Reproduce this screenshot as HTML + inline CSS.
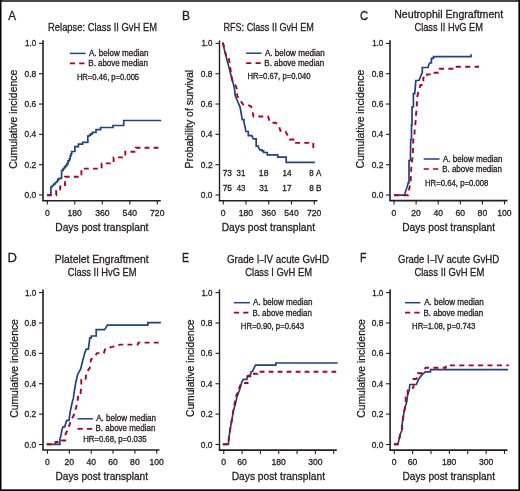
<!DOCTYPE html>
<html><head><meta charset="utf-8"><style>
html,body{margin:0;padding:0;background:#fff;width:520px;height:491px;overflow:hidden}
svg{display:block;will-change:transform}
text{font-family:"Liberation Sans",sans-serif;font-kerning:none;font-variant-ligatures:none;stroke:#231f20;stroke-width:0.3px}
</style></head><body>
<svg width="520" height="491" viewBox="0 0 520 491">
<rect x="0" y="0" width="520" height="2" fill="#474747"/>
<rect x="0" y="0" width="1.5" height="491" fill="#000"/>
<rect x="518.4" y="0" width="1.6" height="491" fill="#000"/>
<rect x="0" y="489.3" width="520" height="1.7" fill="#111"/>
<text x="8.13" y="19.55" font-size="13" textLength="7.80" lengthAdjust="spacingAndGlyphs" fill="#231f20">A</text>
<text x="182.01" y="19.60" font-size="13" textLength="8.02" lengthAdjust="spacingAndGlyphs" fill="#231f20">B</text>
<text x="360.02" y="19.90" font-size="13" textLength="8.21" lengthAdjust="spacingAndGlyphs" fill="#231f20">C</text>
<text x="7.58" y="262.30" font-size="13" textLength="9.45" lengthAdjust="spacingAndGlyphs" fill="#231f20">D</text>
<text x="181.94" y="262.00" font-size="13" textLength="7.01" lengthAdjust="spacingAndGlyphs" fill="#231f20">E</text>
<text x="360.03" y="262.00" font-size="13" textLength="6.50" lengthAdjust="spacingAndGlyphs" fill="#231f20">F</text>
<text x="48.08" y="31.20" font-size="11" textLength="108.94" lengthAdjust="spacingAndGlyphs" fill="#231f20">Relapse: Class II GvH EM</text>
<text x="223.45" y="31.10" font-size="11" textLength="90.39" lengthAdjust="spacingAndGlyphs" fill="#231f20">RFS: Class II GvH EM</text>
<text x="394.23" y="18.20" font-size="11" textLength="108.95" lengthAdjust="spacingAndGlyphs" fill="#231f20">Neutrophil Engraftment</text>
<text x="414.43" y="30.80" font-size="11" textLength="68.63" lengthAdjust="spacingAndGlyphs" fill="#231f20">Class II HvG EM</text>
<text x="54.85" y="263.00" font-size="11" textLength="93.72" lengthAdjust="spacingAndGlyphs" fill="#231f20">Platelet Engraftment</text>
<text x="67.73" y="276.20" font-size="11" textLength="68.84" lengthAdjust="spacingAndGlyphs" fill="#231f20">Class II HvG EM</text>
<text x="226.91" y="263.00" font-size="11" textLength="32.49" lengthAdjust="spacingAndGlyphs" fill="#231f20">Grade I</text>
<text x="259.60" y="263.00" font-size="11" textLength="4.05" lengthAdjust="spacingAndGlyphs" fill="#231f20">–</text>
<text x="263.90" y="263.00" font-size="11" textLength="65.07" lengthAdjust="spacingAndGlyphs" fill="#231f20">IV acute GvHD</text>
<text x="245.32" y="276.20" font-size="11" textLength="66.64" lengthAdjust="spacingAndGlyphs" fill="#231f20">Class I GvH EM</text>
<text x="398.02" y="263.00" font-size="11" textLength="31.65" lengthAdjust="spacingAndGlyphs" fill="#231f20">Grade I</text>
<text x="430.20" y="263.00" font-size="11" textLength="4.00" lengthAdjust="spacingAndGlyphs" fill="#231f20">–</text>
<text x="434.50" y="263.00" font-size="11" textLength="64.86" lengthAdjust="spacingAndGlyphs" fill="#231f20">IV acute GvHD</text>
<text x="414.42" y="276.20" font-size="11" textLength="69.86" lengthAdjust="spacingAndGlyphs" fill="#231f20">Class II GvH EM</text>
<text transform="translate(17.30,168.30) rotate(-90)" x="-0.53" y="0" font-size="11" textLength="99.09" lengthAdjust="spacingAndGlyphs" fill="#231f20">Cumulative incidence</text>
<text transform="translate(193.00,167.70) rotate(-90)" x="-0.86" y="0" font-size="11" textLength="98.66" lengthAdjust="spacingAndGlyphs" fill="#231f20">Probability of survival</text>
<text transform="translate(364.40,168.00) rotate(-90)" x="-0.53" y="0" font-size="11" textLength="98.69" lengthAdjust="spacingAndGlyphs" fill="#231f20">Cumulative incidence</text>
<text transform="translate(17.60,417.30) rotate(-90)" x="-0.53" y="0" font-size="11" textLength="98.69" lengthAdjust="spacingAndGlyphs" fill="#231f20">Cumulative incidence</text>
<text transform="translate(193.50,416.50) rotate(-90)" x="-0.52" y="0" font-size="11" textLength="97.58" lengthAdjust="spacingAndGlyphs" fill="#231f20">Cumulative incidence</text>
<text transform="translate(364.60,417.30) rotate(-90)" x="-0.53" y="0" font-size="11" textLength="98.69" lengthAdjust="spacingAndGlyphs" fill="#231f20">Cumulative incidence</text>
<text x="55.26" y="231.40" font-size="11" textLength="93.21" lengthAdjust="spacingAndGlyphs" fill="#231f20">Days post transplant</text>
<text x="221.66" y="230.90" font-size="11" textLength="93.42" lengthAdjust="spacingAndGlyphs" fill="#231f20">Days post transplant</text>
<text x="402.16" y="230.90" font-size="11" textLength="92.91" lengthAdjust="spacingAndGlyphs" fill="#231f20">Days post transplant</text>
<text x="55.42" y="480.40" font-size="11" textLength="92.66" lengthAdjust="spacingAndGlyphs" fill="#231f20">Days post transplant</text>
<text x="231.66" y="480.40" font-size="11" textLength="93.42" lengthAdjust="spacingAndGlyphs" fill="#231f20">Days post transplant</text>
<text x="402.42" y="480.40" font-size="11" textLength="92.66" lengthAdjust="spacingAndGlyphs" fill="#231f20">Days post transplant</text>
<path d="M43.0,40.2 V200.8" stroke="#231f20" stroke-width="1.6" fill="none"/>
<path d="M42.2,200.8 H160.8" stroke="#231f20" stroke-width="1.6" fill="none"/>
<path d="M39.0,195.00 H43.0" stroke="#231f20" stroke-width="1.1" fill="none"/>
<text x="24.57" y="198.00" font-size="8.6" textLength="11.66" lengthAdjust="spacingAndGlyphs" fill="#231f20">0.0</text>
<path d="M39.0,164.68 H43.0" stroke="#231f20" stroke-width="1.1" fill="none"/>
<text x="24.57" y="167.68" font-size="8.6" textLength="11.76" lengthAdjust="spacingAndGlyphs" fill="#231f20">0.2</text>
<path d="M39.0,134.36 H43.0" stroke="#231f20" stroke-width="1.1" fill="none"/>
<text x="24.57" y="137.36" font-size="8.6" textLength="11.57" lengthAdjust="spacingAndGlyphs" fill="#231f20">0.4</text>
<path d="M39.0,104.04 H43.0" stroke="#231f20" stroke-width="1.1" fill="none"/>
<text x="24.57" y="107.04" font-size="8.6" textLength="11.70" lengthAdjust="spacingAndGlyphs" fill="#231f20">0.6</text>
<path d="M39.0,73.72 H43.0" stroke="#231f20" stroke-width="1.1" fill="none"/>
<text x="24.57" y="76.72" font-size="8.6" textLength="11.69" lengthAdjust="spacingAndGlyphs" fill="#231f20">0.8</text>
<path d="M39.0,43.40 H43.0" stroke="#231f20" stroke-width="1.1" fill="none"/>
<text x="25.09" y="46.40" font-size="8.6" textLength="11.12" lengthAdjust="spacingAndGlyphs" fill="#231f20">1.0</text>
<path d="M47.30,200.8 V204.60000000000002" stroke="#231f20" stroke-width="1.1" fill="none"/>
<text x="44.91" y="215.80" font-size="8.6" textLength="4.78" lengthAdjust="spacingAndGlyphs" fill="#231f20">0</text>
<path d="M74.80,200.8 V204.60000000000002" stroke="#231f20" stroke-width="1.1" fill="none"/>
<text x="67.47" y="215.80" font-size="8.6" textLength="14.35" lengthAdjust="spacingAndGlyphs" fill="#231f20">180</text>
<path d="M102.30,200.8 V204.60000000000002" stroke="#231f20" stroke-width="1.1" fill="none"/>
<text x="95.13" y="215.80" font-size="8.6" textLength="14.35" lengthAdjust="spacingAndGlyphs" fill="#231f20">360</text>
<path d="M129.80,200.8 V204.60000000000002" stroke="#231f20" stroke-width="1.1" fill="none"/>
<text x="122.62" y="215.80" font-size="8.6" textLength="14.35" lengthAdjust="spacingAndGlyphs" fill="#231f20">540</text>
<path d="M157.30,200.8 V204.60000000000002" stroke="#231f20" stroke-width="1.1" fill="none"/>
<text x="150.07" y="215.80" font-size="8.6" textLength="14.35" lengthAdjust="spacingAndGlyphs" fill="#231f20">720</text>
<path d="M219.5,40.4 V200.8" stroke="#231f20" stroke-width="1.4" fill="none"/>
<path d="M218.7,200.8 H317.5" stroke="#231f20" stroke-width="1.6" fill="none"/>
<path d="M215.5,195.00 H219.5" stroke="#231f20" stroke-width="1.1" fill="none"/>
<text x="200.87" y="198.00" font-size="8.6" textLength="11.66" lengthAdjust="spacingAndGlyphs" fill="#231f20">0.0</text>
<path d="M215.5,164.68 H219.5" stroke="#231f20" stroke-width="1.1" fill="none"/>
<text x="200.87" y="167.68" font-size="8.6" textLength="11.76" lengthAdjust="spacingAndGlyphs" fill="#231f20">0.2</text>
<path d="M215.5,134.36 H219.5" stroke="#231f20" stroke-width="1.1" fill="none"/>
<text x="200.87" y="137.36" font-size="8.6" textLength="11.57" lengthAdjust="spacingAndGlyphs" fill="#231f20">0.4</text>
<path d="M215.5,104.04 H219.5" stroke="#231f20" stroke-width="1.1" fill="none"/>
<text x="200.87" y="107.04" font-size="8.6" textLength="11.70" lengthAdjust="spacingAndGlyphs" fill="#231f20">0.6</text>
<path d="M215.5,73.72 H219.5" stroke="#231f20" stroke-width="1.1" fill="none"/>
<text x="200.87" y="76.72" font-size="8.6" textLength="11.69" lengthAdjust="spacingAndGlyphs" fill="#231f20">0.8</text>
<path d="M215.5,43.40 H219.5" stroke="#231f20" stroke-width="1.1" fill="none"/>
<text x="201.39" y="46.40" font-size="8.6" textLength="11.12" lengthAdjust="spacingAndGlyphs" fill="#231f20">1.0</text>
<path d="M223.25,200.8 V204.60000000000002" stroke="#231f20" stroke-width="1.1" fill="none"/>
<text x="220.86" y="215.80" font-size="8.6" textLength="4.78" lengthAdjust="spacingAndGlyphs" fill="#231f20">0</text>
<path d="M246.00,200.8 V204.60000000000002" stroke="#231f20" stroke-width="1.1" fill="none"/>
<text x="238.67" y="215.80" font-size="8.6" textLength="14.35" lengthAdjust="spacingAndGlyphs" fill="#231f20">180</text>
<path d="M268.75,200.8 V204.60000000000002" stroke="#231f20" stroke-width="1.1" fill="none"/>
<text x="261.58" y="215.80" font-size="8.6" textLength="14.35" lengthAdjust="spacingAndGlyphs" fill="#231f20">360</text>
<path d="M291.50,200.8 V204.60000000000002" stroke="#231f20" stroke-width="1.1" fill="none"/>
<text x="284.32" y="215.80" font-size="8.6" textLength="14.35" lengthAdjust="spacingAndGlyphs" fill="#231f20">540</text>
<path d="M314.25,200.8 V204.60000000000002" stroke="#231f20" stroke-width="1.1" fill="none"/>
<text x="307.02" y="215.80" font-size="8.6" textLength="14.35" lengthAdjust="spacingAndGlyphs" fill="#231f20">720</text>
<path d="M390.0,40.2 V200.6" stroke="#231f20" stroke-width="1.6" fill="none"/>
<path d="M389.2,200.6 H507.5" stroke="#231f20" stroke-width="1.6" fill="none"/>
<path d="M386.0,195.00 H390.0" stroke="#231f20" stroke-width="1.1" fill="none"/>
<text x="371.67" y="198.00" font-size="8.6" textLength="11.66" lengthAdjust="spacingAndGlyphs" fill="#231f20">0.0</text>
<path d="M386.0,164.68 H390.0" stroke="#231f20" stroke-width="1.1" fill="none"/>
<text x="371.67" y="167.68" font-size="8.6" textLength="11.76" lengthAdjust="spacingAndGlyphs" fill="#231f20">0.2</text>
<path d="M386.0,134.36 H390.0" stroke="#231f20" stroke-width="1.1" fill="none"/>
<text x="371.67" y="137.36" font-size="8.6" textLength="11.57" lengthAdjust="spacingAndGlyphs" fill="#231f20">0.4</text>
<path d="M386.0,104.04 H390.0" stroke="#231f20" stroke-width="1.1" fill="none"/>
<text x="371.67" y="107.04" font-size="8.6" textLength="11.70" lengthAdjust="spacingAndGlyphs" fill="#231f20">0.6</text>
<path d="M386.0,73.72 H390.0" stroke="#231f20" stroke-width="1.1" fill="none"/>
<text x="371.67" y="76.72" font-size="8.6" textLength="11.69" lengthAdjust="spacingAndGlyphs" fill="#231f20">0.8</text>
<path d="M386.0,43.40 H390.0" stroke="#231f20" stroke-width="1.1" fill="none"/>
<text x="372.19" y="46.40" font-size="8.6" textLength="11.12" lengthAdjust="spacingAndGlyphs" fill="#231f20">1.0</text>
<path d="M394.00,200.6 V204.4" stroke="#231f20" stroke-width="1.1" fill="none"/>
<text x="391.61" y="215.80" font-size="8.6" textLength="4.78" lengthAdjust="spacingAndGlyphs" fill="#231f20">0</text>
<path d="M416.10,200.6 V204.4" stroke="#231f20" stroke-width="1.1" fill="none"/>
<text x="411.27" y="215.80" font-size="8.6" textLength="9.57" lengthAdjust="spacingAndGlyphs" fill="#231f20">20</text>
<path d="M438.20,200.6 V204.4" stroke="#231f20" stroke-width="1.1" fill="none"/>
<text x="433.49" y="215.80" font-size="8.6" textLength="9.57" lengthAdjust="spacingAndGlyphs" fill="#231f20">40</text>
<path d="M460.30,200.6 V204.4" stroke="#231f20" stroke-width="1.1" fill="none"/>
<text x="455.47" y="215.80" font-size="8.6" textLength="9.57" lengthAdjust="spacingAndGlyphs" fill="#231f20">60</text>
<path d="M482.40,200.6 V204.4" stroke="#231f20" stroke-width="1.1" fill="none"/>
<text x="477.60" y="215.80" font-size="8.6" textLength="9.57" lengthAdjust="spacingAndGlyphs" fill="#231f20">80</text>
<path d="M504.50,200.6 V204.4" stroke="#231f20" stroke-width="1.1" fill="none"/>
<text x="497.17" y="215.80" font-size="8.6" textLength="14.35" lengthAdjust="spacingAndGlyphs" fill="#231f20">100</text>
<path d="M43.0,289.4 V450.0" stroke="#231f20" stroke-width="1.6" fill="none"/>
<path d="M42.2,450.0 H159.5" stroke="#231f20" stroke-width="1.6" fill="none"/>
<path d="M39.0,444.50 H43.0" stroke="#231f20" stroke-width="1.1" fill="none"/>
<text x="24.57" y="447.50" font-size="8.6" textLength="11.66" lengthAdjust="spacingAndGlyphs" fill="#231f20">0.0</text>
<path d="M39.0,414.12 H43.0" stroke="#231f20" stroke-width="1.1" fill="none"/>
<text x="24.57" y="417.12" font-size="8.6" textLength="11.76" lengthAdjust="spacingAndGlyphs" fill="#231f20">0.2</text>
<path d="M39.0,383.74 H43.0" stroke="#231f20" stroke-width="1.1" fill="none"/>
<text x="24.57" y="386.74" font-size="8.6" textLength="11.57" lengthAdjust="spacingAndGlyphs" fill="#231f20">0.4</text>
<path d="M39.0,353.36 H43.0" stroke="#231f20" stroke-width="1.1" fill="none"/>
<text x="24.57" y="356.36" font-size="8.6" textLength="11.70" lengthAdjust="spacingAndGlyphs" fill="#231f20">0.6</text>
<path d="M39.0,322.98 H43.0" stroke="#231f20" stroke-width="1.1" fill="none"/>
<text x="24.57" y="325.98" font-size="8.6" textLength="11.69" lengthAdjust="spacingAndGlyphs" fill="#231f20">0.8</text>
<path d="M39.0,292.60 H43.0" stroke="#231f20" stroke-width="1.1" fill="none"/>
<text x="25.09" y="295.60" font-size="8.6" textLength="11.12" lengthAdjust="spacingAndGlyphs" fill="#231f20">1.0</text>
<path d="M47.50,450.0 V453.8" stroke="#231f20" stroke-width="1.1" fill="none"/>
<text x="45.11" y="465.00" font-size="8.6" textLength="4.78" lengthAdjust="spacingAndGlyphs" fill="#231f20">0</text>
<path d="M69.35,450.0 V453.8" stroke="#231f20" stroke-width="1.1" fill="none"/>
<text x="64.52" y="465.00" font-size="8.6" textLength="9.57" lengthAdjust="spacingAndGlyphs" fill="#231f20">20</text>
<path d="M91.20,450.0 V453.8" stroke="#231f20" stroke-width="1.1" fill="none"/>
<text x="86.49" y="465.00" font-size="8.6" textLength="9.57" lengthAdjust="spacingAndGlyphs" fill="#231f20">40</text>
<path d="M113.05,450.0 V453.8" stroke="#231f20" stroke-width="1.1" fill="none"/>
<text x="108.22" y="465.00" font-size="8.6" textLength="9.57" lengthAdjust="spacingAndGlyphs" fill="#231f20">60</text>
<path d="M134.90,450.0 V453.8" stroke="#231f20" stroke-width="1.1" fill="none"/>
<text x="130.10" y="465.00" font-size="8.6" textLength="9.57" lengthAdjust="spacingAndGlyphs" fill="#231f20">80</text>
<path d="M156.75,450.0 V453.8" stroke="#231f20" stroke-width="1.1" fill="none"/>
<text x="149.42" y="465.00" font-size="8.6" textLength="14.35" lengthAdjust="spacingAndGlyphs" fill="#231f20">100</text>
<path d="M219.5,289.4 V450.1" stroke="#231f20" stroke-width="1.4" fill="none"/>
<path d="M218.7,450.1 H336.75" stroke="#231f20" stroke-width="1.6" fill="none"/>
<path d="M215.5,444.50 H219.5" stroke="#231f20" stroke-width="1.1" fill="none"/>
<text x="200.87" y="447.50" font-size="8.6" textLength="11.66" lengthAdjust="spacingAndGlyphs" fill="#231f20">0.0</text>
<path d="M215.5,414.12 H219.5" stroke="#231f20" stroke-width="1.1" fill="none"/>
<text x="200.87" y="417.12" font-size="8.6" textLength="11.76" lengthAdjust="spacingAndGlyphs" fill="#231f20">0.2</text>
<path d="M215.5,383.74 H219.5" stroke="#231f20" stroke-width="1.1" fill="none"/>
<text x="200.87" y="386.74" font-size="8.6" textLength="11.57" lengthAdjust="spacingAndGlyphs" fill="#231f20">0.4</text>
<path d="M215.5,353.36 H219.5" stroke="#231f20" stroke-width="1.1" fill="none"/>
<text x="200.87" y="356.36" font-size="8.6" textLength="11.70" lengthAdjust="spacingAndGlyphs" fill="#231f20">0.6</text>
<path d="M215.5,322.98 H219.5" stroke="#231f20" stroke-width="1.1" fill="none"/>
<text x="200.87" y="325.98" font-size="8.6" textLength="11.69" lengthAdjust="spacingAndGlyphs" fill="#231f20">0.8</text>
<path d="M215.5,292.60 H219.5" stroke="#231f20" stroke-width="1.1" fill="none"/>
<text x="201.39" y="295.60" font-size="8.6" textLength="11.12" lengthAdjust="spacingAndGlyphs" fill="#231f20">1.0</text>
<path d="M223.75,450.1 V453.90000000000003" stroke="#231f20" stroke-width="1.1" fill="none"/>
<text x="221.36" y="465.00" font-size="8.6" textLength="4.78" lengthAdjust="spacingAndGlyphs" fill="#231f20">0</text>
<path d="M242.08,450.1 V453.90000000000003" stroke="#231f20" stroke-width="1.1" fill="none"/>
<text x="237.25" y="465.00" font-size="8.6" textLength="9.57" lengthAdjust="spacingAndGlyphs" fill="#231f20">60</text>
<path d="M260.41,450.1 V453.90000000000003" stroke="#231f20" stroke-width="1.1" fill="none"/>
<path d="M278.74,450.1 V453.90000000000003" stroke="#231f20" stroke-width="1.1" fill="none"/>
<text x="271.41" y="465.00" font-size="8.6" textLength="14.35" lengthAdjust="spacingAndGlyphs" fill="#231f20">180</text>
<path d="M297.07,450.1 V453.90000000000003" stroke="#231f20" stroke-width="1.1" fill="none"/>
<path d="M315.40,450.1 V453.90000000000003" stroke="#231f20" stroke-width="1.1" fill="none"/>
<text x="308.23" y="465.00" font-size="8.6" textLength="14.35" lengthAdjust="spacingAndGlyphs" fill="#231f20">300</text>
<path d="M333.73,450.1 V453.90000000000003" stroke="#231f20" stroke-width="1.1" fill="none"/>
<path d="M390.1,289.4 V450.1" stroke="#231f20" stroke-width="1.6" fill="none"/>
<path d="M389.3,450.1 H507.5" stroke="#231f20" stroke-width="1.6" fill="none"/>
<path d="M386.1,444.50 H390.1" stroke="#231f20" stroke-width="1.1" fill="none"/>
<text x="371.67" y="447.50" font-size="8.6" textLength="11.66" lengthAdjust="spacingAndGlyphs" fill="#231f20">0.0</text>
<path d="M386.1,414.12 H390.1" stroke="#231f20" stroke-width="1.1" fill="none"/>
<text x="371.67" y="417.12" font-size="8.6" textLength="11.76" lengthAdjust="spacingAndGlyphs" fill="#231f20">0.2</text>
<path d="M386.1,383.74 H390.1" stroke="#231f20" stroke-width="1.1" fill="none"/>
<text x="371.67" y="386.74" font-size="8.6" textLength="11.57" lengthAdjust="spacingAndGlyphs" fill="#231f20">0.4</text>
<path d="M386.1,353.36 H390.1" stroke="#231f20" stroke-width="1.1" fill="none"/>
<text x="371.67" y="356.36" font-size="8.6" textLength="11.70" lengthAdjust="spacingAndGlyphs" fill="#231f20">0.6</text>
<path d="M386.1,322.98 H390.1" stroke="#231f20" stroke-width="1.1" fill="none"/>
<text x="371.67" y="325.98" font-size="8.6" textLength="11.69" lengthAdjust="spacingAndGlyphs" fill="#231f20">0.8</text>
<path d="M386.1,292.60 H390.1" stroke="#231f20" stroke-width="1.1" fill="none"/>
<text x="372.19" y="295.60" font-size="8.6" textLength="11.12" lengthAdjust="spacingAndGlyphs" fill="#231f20">1.0</text>
<path d="M394.25,450.1 V453.90000000000003" stroke="#231f20" stroke-width="1.1" fill="none"/>
<text x="391.86" y="465.00" font-size="8.6" textLength="4.78" lengthAdjust="spacingAndGlyphs" fill="#231f20">0</text>
<path d="M412.62,450.1 V453.90000000000003" stroke="#231f20" stroke-width="1.1" fill="none"/>
<text x="407.79" y="465.00" font-size="8.6" textLength="9.57" lengthAdjust="spacingAndGlyphs" fill="#231f20">60</text>
<path d="M431.00,450.1 V453.90000000000003" stroke="#231f20" stroke-width="1.1" fill="none"/>
<path d="M449.38,450.1 V453.90000000000003" stroke="#231f20" stroke-width="1.1" fill="none"/>
<text x="442.04" y="465.00" font-size="8.6" textLength="14.35" lengthAdjust="spacingAndGlyphs" fill="#231f20">180</text>
<path d="M467.75,450.1 V453.90000000000003" stroke="#231f20" stroke-width="1.1" fill="none"/>
<path d="M486.12,450.1 V453.90000000000003" stroke="#231f20" stroke-width="1.1" fill="none"/>
<text x="478.95" y="465.00" font-size="8.6" textLength="14.35" lengthAdjust="spacingAndGlyphs" fill="#231f20">300</text>
<path d="M504.50,450.1 V453.90000000000003" stroke="#231f20" stroke-width="1.1" fill="none"/>
<path d="M69.8,53.4 H85.5" stroke="#21437f" stroke-width="1.5" fill="none"/>
<text x="88.98" y="55.80" font-size="8.3" textLength="59.54" lengthAdjust="spacingAndGlyphs" fill="#231f20">A. below median</text>
<path d="M69.8,63.4 H85.5" stroke="#ad0029" stroke-width="1.7" fill="none" stroke-dasharray="5.2 4.2"/>
<text x="88.35" y="65.90" font-size="8.3" textLength="59.57" lengthAdjust="spacingAndGlyphs" fill="#231f20">B. above median</text>
<text x="76.88" y="79.60" font-size="8.2" textLength="62.24" lengthAdjust="spacingAndGlyphs" fill="#231f20">HR=0.46, p=0.005</text>
<path d="M246.15,53.2 H261.5" stroke="#21437f" stroke-width="1.5" fill="none"/>
<text x="264.98" y="55.80" font-size="8.3" textLength="59.74" lengthAdjust="spacingAndGlyphs" fill="#231f20">A. below median</text>
<path d="M246.15,63.2 H261.5" stroke="#ad0029" stroke-width="1.7" fill="none" stroke-dasharray="5.2 4.2"/>
<text x="264.35" y="65.90" font-size="8.3" textLength="59.77" lengthAdjust="spacingAndGlyphs" fill="#231f20">B. above median</text>
<text x="247.47" y="79.20" font-size="8.2" textLength="63.03" lengthAdjust="spacingAndGlyphs" fill="#231f20">HR=0.67, p=0.040</text>
<path d="M423.65,159.0 H439.6" stroke="#21437f" stroke-width="1.5" fill="none"/>
<text x="442.88" y="161.50" font-size="8.3" textLength="59.54" lengthAdjust="spacingAndGlyphs" fill="#231f20">A. below median</text>
<path d="M423.65,169.0 H439.6" stroke="#ad0029" stroke-width="1.7" fill="none" stroke-dasharray="5.2 4.2"/>
<text x="442.25" y="171.60" font-size="8.3" textLength="59.57" lengthAdjust="spacingAndGlyphs" fill="#231f20">B. above median</text>
<text x="424.96" y="185.60" font-size="8.2" textLength="63.47" lengthAdjust="spacingAndGlyphs" fill="#231f20">HR=0.64, p=0.008</text>
<path d="M77.5,418.8 H92.9" stroke="#21437f" stroke-width="1.5" fill="none"/>
<text x="96.18" y="421.30" font-size="8.3" textLength="59.74" lengthAdjust="spacingAndGlyphs" fill="#231f20">A. below median</text>
<path d="M77.5,428.8 H92.9" stroke="#ad0029" stroke-width="1.7" fill="none" stroke-dasharray="5.2 4.2"/>
<text x="95.55" y="431.40" font-size="8.3" textLength="59.77" lengthAdjust="spacingAndGlyphs" fill="#231f20">B. above median</text>
<text x="83.16" y="442.10" font-size="8.2" textLength="63.36" lengthAdjust="spacingAndGlyphs" fill="#231f20">HR=0.68, p=0.035</text>
<path d="M233.8,302.7 H249.8" stroke="#21437f" stroke-width="1.5" fill="none"/>
<text x="253.08" y="305.40" font-size="8.3" textLength="59.34" lengthAdjust="spacingAndGlyphs" fill="#231f20">A. below median</text>
<path d="M233.8,312.7 H249.8" stroke="#ad0029" stroke-width="1.7" fill="none" stroke-dasharray="5.2 4.2"/>
<text x="252.45" y="315.50" font-size="8.3" textLength="59.36" lengthAdjust="spacingAndGlyphs" fill="#231f20">B. above median</text>
<text x="240.87" y="328.50" font-size="8.2" textLength="63.17" lengthAdjust="spacingAndGlyphs" fill="#231f20">HR=0.90, p=0.643</text>
<path d="M405.0,302.7 H420.4" stroke="#21437f" stroke-width="1.5" fill="none"/>
<text x="424.18" y="305.40" font-size="8.3" textLength="59.64" lengthAdjust="spacingAndGlyphs" fill="#231f20">A. below median</text>
<path d="M405.0,312.7 H420.4" stroke="#ad0029" stroke-width="1.7" fill="none" stroke-dasharray="5.2 4.2"/>
<text x="423.55" y="315.50" font-size="8.3" textLength="59.67" lengthAdjust="spacingAndGlyphs" fill="#231f20">B. above median</text>
<text x="412.06" y="328.50" font-size="8.2" textLength="63.28" lengthAdjust="spacingAndGlyphs" fill="#231f20">HR=1.08, p=0.743</text>
<text x="222.67" y="175.70" font-size="8.6" textLength="9.30" lengthAdjust="spacingAndGlyphs" fill="#231f20">73</text>
<text x="236.60" y="175.70" font-size="8.6" textLength="8.79" lengthAdjust="spacingAndGlyphs" fill="#231f20">31</text>
<text x="258.84" y="175.70" font-size="8.6" textLength="9.64" lengthAdjust="spacingAndGlyphs" fill="#231f20">18</text>
<text x="282.38" y="175.70" font-size="8.6" textLength="9.06" lengthAdjust="spacingAndGlyphs" fill="#231f20">14</text>
<text x="309.25" y="175.70" font-size="8.6" textLength="11.96" lengthAdjust="spacingAndGlyphs" fill="#231f20">8 A</text>
<text x="222.67" y="190.70" font-size="8.6" textLength="9.28" lengthAdjust="spacingAndGlyphs" fill="#231f20">75</text>
<text x="236.72" y="190.70" font-size="8.6" textLength="8.62" lengthAdjust="spacingAndGlyphs" fill="#231f20">43</text>
<text x="259.18" y="190.70" font-size="8.6" textLength="9.33" lengthAdjust="spacingAndGlyphs" fill="#231f20">31</text>
<text x="282.37" y="190.70" font-size="8.6" textLength="9.25" lengthAdjust="spacingAndGlyphs" fill="#231f20">17</text>
<text x="309.24" y="190.70" font-size="8.6" textLength="12.39" lengthAdjust="spacingAndGlyphs" fill="#231f20">8 B</text>
<path d="M47,195.2 H50.9 V187 H52.2 V185.5 H53.8 V184 H55.3 V182.5 H56.7 V181.5 H57.7 V179.3 H59.2 V178.3 H61.6 V170.5 H63.1 V168.6 H64.5 V167.1 H65.5 V165.6 H67 V163.7 H68 V160.8 H69.4 V158.8 H70.2 V156 H70.9 V153.8 H71.7 V151.5 H74.9 V146.6 H78.4 V144.1 H82.5 V142.3 H87.8 V136 H89.4 V135.2 H90.6 V133.8 H92.4 V132.3 H96 V129.6 H100.6 V127.5 H113 V125.5 H123.7 V120.5 H161.2" stroke="#21437f" stroke-width="1.7" fill="none"/>
<path d="M47,195.2 H56.2 V191 H60.2 V186.5 H65 V176.7 H81.4 V168.6 H101.6 V163.4 H113.6 V157.4 H125.3 V151.7 H135.8 V147.7 H158.9" stroke="#ad0029" stroke-width="1.9" fill="none" stroke-dasharray="4.834 4.235"/>
<path d="M222.6,42.6 L232.2,80 L233.1,83.1 L234.6,89.3 L235.1,95.4 L237.7,101.5 L240.2,107.6 L241.2,113.7 L242.3,119.6 H244 V122.3 L245,126.9 L246,131.5 H248.3 V135.6 H251.9 V136.1 L253.3,138.9 H256.2 V146.2 H258.3 V147.1 L259.7,149.9 H262 V150.9 H263.6 V152.5 H267.3 V154.9 H277.7 V157.2 H286.2 V162.3 H314.9" stroke="#21437f" stroke-width="1.7" fill="none"/>
<path d="M222.6,42.6 L223.5,44.5 L225.3,52.5 L226.5,57.3 H228.6 L230.2,66.5 L231,73.5 L232.2,80 L235.7,86 L236.7,88.5 L237.2,96 L240,99.5 L242,103 L243.3,104.6 H247 L251,106.5 L252,109 L253.5,116.5 H268 L269,119.4 L270.6,122.7 H275.5 L278.7,125.1 L280.4,130.8 H285.3 L286.9,134.1 L288.4,136.6 L289.5,139.5 H294.5 V142.9 H313.3 V148.2" stroke="#ad0029" stroke-width="1.9" fill="none" stroke-dasharray="4.873 4.269"/>
<path d="M394,195.2 H404.8 L405.5,191.6 L406.9,187.5 L408.3,182.6 H409 V160.5 H410.4 L410.7,139.7 H411.5 V124.8 H412 V107 H413.4 V93.7 H414.7 L415.4,86 L415.8,80.5 H419 L419.8,78.5 L421,75.3 L422.3,72.8 V67.5 H428 L428.8,64.7 L429.6,63 H431.4 V58.4 H433.5 V56.7 H471 V54.2" stroke="#21437f" stroke-width="1.7" fill="none"/>
<path d="M394,195.2 H408 L409,190 L410.6,182 L411.4,165 L412.8,156 L413.2,140 L414.3,138.5 L414.7,130 L415.4,124 L416,115 L416.8,106 L417,98 L418.5,91 L420.5,85 H423.3 V77.6 H427 V74.4 H433.5 V72.8 H439.8 V68.7 H455 V66.7 H479" stroke="#ad0029" stroke-width="1.9" fill="none" stroke-dasharray="5.025 4.402"/>
<path d="M46.7,444.3 H59.9 V439.3 L60.9,435.5 L62,429.5 L63.1,426.8 H64.7 L65.8,423.1 L66.9,420.4 H69 L70.1,412.3 L71.2,406.9 L72.3,402 L73.4,398.2 L74.1,392.7 L75.6,383.5 L77.7,374.2 L80.6,369.2 L82.7,360.7 L84.8,352.8 L86.3,349.2 H88.4 L89.8,337.8 H91.3 V336 H96.2 V329.7 H104.6 L106.5,326.6 L107.4,325.1 H147.8 V322.6 H160.9" stroke="#21437f" stroke-width="1.7" fill="none"/>
<path d="M46.7,444.3 H55.5 V442 H61.8 V440.5 H65.3 L65.6,434 L68.5,428 L70.7,421 L73.9,415 L76,408 L77.7,400 L78.4,393 H80.6 L81.3,386.5 V380 H85.5 L86.3,373 L89.8,367.8 L91,359.5 L95.5,355.5 L97,353.1 H103.8 L105.4,348.5 L112.3,346.9 L120,344.6 H137.7 L138.5,342.6 H158.8" stroke="#ad0029" stroke-width="1.9" fill="none" stroke-dasharray="4.908 4.300"/>
<path d="M222.8,444.3 H228.4 L228.7,439.8 L230.1,429.7 L232.3,417.4 L233.4,410.7 L235.7,402.8 L236.7,397.8 L238.2,393.7 L240.3,387.6 L241.8,382 L243.3,379.4 H246.9 L247.6,375.9 L250.5,374.9 L251,371.8 L252.5,371.3 L254.5,367.2 L255.5,365.2 H275.8 V363 H337.7" stroke="#21437f" stroke-width="1.7" fill="none"/>
<path d="M222.8,444.3 H228.4 L228.7,439.8 L230.1,429.7 L232.3,417.4 L233.4,410.7 L235.2,400 L236.7,394 L238.7,392.7 L239.3,387.6 L240.8,384.5 L241.5,383 H247.5 V376.4 H251.5 V373.8 H257.5 V371.7 H336.2" stroke="#ad0029" stroke-width="1.9" fill="none" stroke-dasharray="4.785 4.193"/>
<path d="M393.9,444.3 H397.8 L399,439.8 L400.6,433.1 L401.8,430.8 L402.3,423 L404,411.8 L405.1,407.3 L406.8,401.7 L407.5,395.5 L409.3,389.6 L409.8,384.5 H416.4 L418.4,379.4 L421.5,375.4 L423,373.8 L425.5,371.8 H430.5 V369.7 H508.1" stroke="#21437f" stroke-width="1.7" fill="none"/>
<path d="M393.9,444.3 H397.8 L399,439.8 L400.6,433.1 L401.8,430.8 L402.3,423 L404,411.8 L405.1,407.3 L405.7,401.8 V397.5 H407.7 V390.5 H409 L410.8,388.6 L413.5,387.5 V379 H416 L417.9,377 V373.3 H420 L422,373 L424.5,370 L425.5,367.7 H445.8 V365.4 H508.8" stroke="#ad0029" stroke-width="1.9" fill="none" stroke-dasharray="5.009 4.389"/>
</svg>
</body></html>
